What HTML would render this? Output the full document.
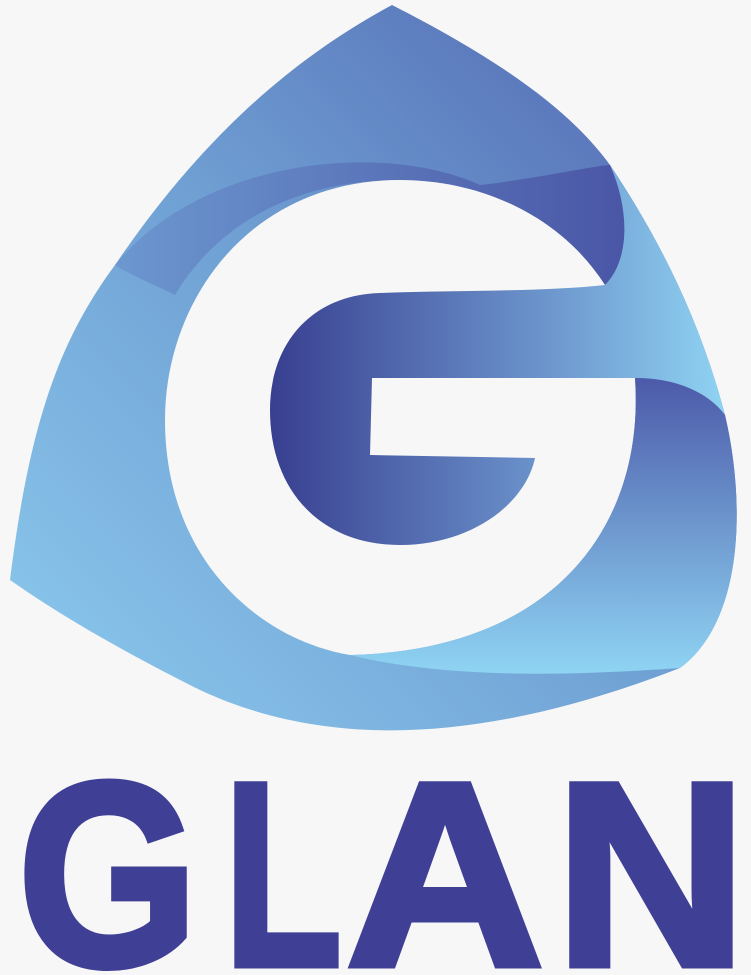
<!DOCTYPE html>
<html><head><meta charset="utf-8"><style>
html,body{margin:0;padding:0;background:#f7f7f7;width:751px;height:975px;overflow:hidden;}
svg{display:block;}
</style></head><body>
<svg width="751" height="975" viewBox="0 0 751 975">
<defs>
<linearGradient id="gOuter" x1="1" y1="0" x2="0" y2="1">
<stop offset="0" stop-color="#4f62ae"/><stop offset="0.5" stop-color="#6f9fd3"/><stop offset="1" stop-color="#8ccbee"/>
</linearGradient>
<linearGradient id="gTop" x1="0" y1="0" x2="1" y2="0">
<stop offset="0" stop-color="#6c97cf"/><stop offset="1" stop-color="#4a56a6"/>
</linearGradient>
<linearGradient id="gBar" x1="0" y1="0" x2="1" y2="0">
<stop offset="0" stop-color="#383f90"/><stop offset="0.6" stop-color="#6c94cc"/><stop offset="1" stop-color="#8fd3f2"/>
</linearGradient>
<linearGradient id="gRight" x1="0" y1="0" x2="0" y2="1">
<stop offset="0" stop-color="#4c5aa9"/><stop offset="1" stop-color="#8fd4f3"/>
</linearGradient>
</defs>
<rect width="751" height="975" fill="#f7f7f7"/>
<path fill="url(#gOuter)"
 d="M392,5 C500,60 570,110 610,165 C660,240 700,320 725,415 C745,500 745,620 680,668 C520,730 350,760 200,690 C120,650 60,615 10,580 C30,420 60,340 115,265 C200,140 290,60 392,5 Z"/>
<path fill="url(#gTop)"
 d="M115,265 C200,160 380,140 480,185 C540,178 580,168 610,165 C630,210 630,260 605,285 C560,220 480,180 400,180 C300,180 220,220 175,295 C155,285 130,275 115,265 Z"/>
<path fill="#f7f7f7"
 d="M605,285 C560,215 480,180 400,180 C250,180 165,300 165,420 C165,560 260,640 350,655 C560,650 645,520 635,378 Z"/>
<path fill="url(#gBar)"
 d="M605,285 C540,292 460,290 380,293 C310,295 270,345 270,410 C270,490 320,545 400,545 C470,545 525,505 535,458 L370,455 L372,378 L635,378 C680,378 710,395 725,415 C700,320 660,240 610,165 C630,210 630,260 605,285 Z"/>
<path fill="url(#gRight)"
 d="M635,378 C645,520 560,650 350,655 C450,680 580,675 680,668 C745,620 745,500 725,415 C710,395 680,378 635,378 Z"/>
<g fill="#3f4095" stroke="#3f4095" stroke-width="7" stroke-linejoin="miter" font-family="'Liberation Sans', sans-serif" font-weight="bold" font-size="262">
<text x="18" y="965" textLength="180" lengthAdjust="spacingAndGlyphs">G</text>
<text x="224" y="965" textLength="118" lengthAdjust="spacingAndGlyphs">L</text>
<text x="346" y="965" textLength="198" lengthAdjust="spacingAndGlyphs">A</text>
<text x="555" y="965" textLength="192" lengthAdjust="spacingAndGlyphs">N</text>
</g>
</svg>
</body></html>
